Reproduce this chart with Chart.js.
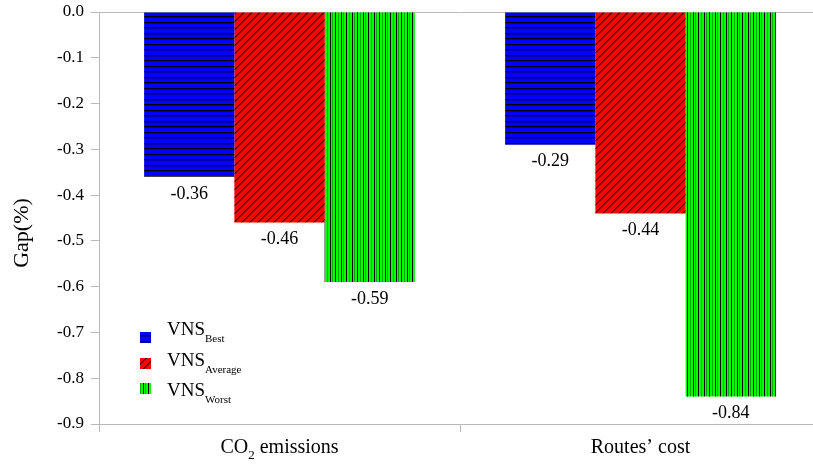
<!DOCTYPE html>
<html>
<head>
<meta charset="utf-8">
<script src="https://cdn.jsdelivr.net/npm/chart.js@4"></script>
<style>
  body { margin: 0; overflow: hidden; background: #fff; }
  #wrap { width: 840px; height: 464px; }
</style>
</head>
<body>
<div id="wrap"><canvas id="myChart" width="840" height="464"></canvas></div>
<script>
// Data
const categories = ['CO2 emissions', 'Routes\u2019 cost'];
const seriesNames = ['Best', 'Average', 'Worst'];   // subscripts of "VNS"
const vnsBest = [-0.36, -0.29];
const vnsAverage = [-0.46, -0.44];
const vnsWorst = [-0.59, -0.84];
const yTicks = [0, -0.1, -0.2, -0.3, -0.4, -0.5, -0.6, -0.7, -0.8, -0.9];
const yTitle = 'Gap(%)';

const AXIS = '#b8b8b8';
const FONT = '"Liberation Serif", "Times New Roman", serif';

// Fill patterns for the bars
function makePattern(kind) {
    const c = document.createElement('canvas');
    const g = c.getContext('2d');
    if (kind === 'h') {
        c.width = 8; c.height = 11;
        g.fillStyle = '#0000ff'; g.fillRect(0, 0, 8, 11);
        g.fillStyle = '#000';
        g.fillRect(0, 0, 8, 1);
        g.fillRect(0, 5, 8, 1);
        g.fillStyle = '#0000b0';
        g.fillRect(0, 1, 8, 1);
        g.fillRect(0, 6, 8, 1);
    } else if (kind === 'd') {
        c.width = 8; c.height = 8;
        g.fillStyle = '#ff0000'; g.fillRect(0, 0, 8, 8);
        g.fillStyle = '#000';
        for (let i = 0; i < 8; i++) g.fillRect(i, 7 - i, 1, 1);
        g.fillStyle = '#800000';
        for (let i = 0; i < 8; i++) g.fillRect((i + 1) % 8, 7 - i, 1, 1);
    } else {
        c.width = 11; c.height = 8;
        g.fillStyle = '#00ff00'; g.fillRect(0, 0, 11, 8);
        g.fillStyle = '#000';
        g.fillRect(0, 0, 1, 8);
        g.fillRect(5, 0, 1, 8);
        g.fillStyle = '#00b000';
        g.fillRect(2, 0, 1, 8);
        g.fillRect(8, 0, 1, 8);
    }
    return g.createPattern(c, 'repeat');
}

const fills = [makePattern('h'), makePattern('d'), makePattern('v')];

// Value labels under each bar end
const valueLabels = {
    id: 'valueLabels',
    afterDatasetsDraw(chart) {
        const ctx = chart.ctx;
        ctx.save();
        ctx.font = '18px ' + FONT;
        ctx.fillStyle = '#000';
        ctx.textAlign = 'center';
        ctx.textBaseline = 'top';
        chart.data.datasets.forEach((ds, i) => {
            chart.getDatasetMeta(i).data.forEach((bar, j) => {
                ctx.fillText(ds.data[j].toFixed(2), bar.x, bar.y + 8);
            });
        });
        ctx.restore();
    }
};

// Legend with subscripts, axis title, and x labels with subscripted CO2
const extraText = {
    id: 'extraText',
    afterDraw(chart) {
        const ctx = chart.ctx;
        const area = chart.chartArea;
        ctx.save();
        ctx.fillStyle = '#000';
        ctx.textBaseline = 'alphabetic';

        // y title
        ctx.save();
        ctx.translate(28, (area.top + area.bottom) / 2 + 15);
        ctx.rotate(-Math.PI / 2);
        ctx.font = '22px ' + FONT;
        ctx.textAlign = 'center';
        ctx.fillText(yTitle, 0, 0);
        ctx.restore();

        // legend
        const lx = area.left + 41;
        const boxTops = [area.top + 320, area.top + 346, area.top + 371];
        const textBase = [area.top + 323, area.top + 354, area.top + 384];
        seriesNames.forEach((name, i) => {
            ctx.fillStyle = fills[i];
            ctx.fillRect(lx, boxTops[i], 11, 11);
            ctx.fillStyle = '#000';
            ctx.textAlign = 'left';
            ctx.font = '19px ' + FONT;
            ctx.fillText('VNS', lx + 27, textBase[i]);
            const w = ctx.measureText('VNS').width;
            ctx.font = '11px ' + FONT;
            ctx.fillText(name, lx + 27 + w, textBase[i] + 7);
        });

        // category labels
        const xs = chart.scales.x;
        const base = area.bottom + 29;
        categories.forEach((cat, i) => {
            const cx = xs.getPixelForValue(i);
            if (cat.indexOf('CO2') === 0) {
                ctx.font = '20px ' + FONT;
                const a = 'CO', b = ' emissions';
                const wa = ctx.measureText(a).width;
                const wb = ctx.measureText(b).width;
                ctx.font = '13px ' + FONT;
                const ws = ctx.measureText('2').width;
                let x0 = cx - (wa + ws + wb) / 2;
                ctx.textAlign = 'left';
                ctx.font = '20px ' + FONT;
                ctx.fillText(a, x0, base);
                ctx.font = '13px ' + FONT;
                ctx.fillText('2', x0 + wa, base + 6);
                ctx.font = '20px ' + FONT;
                ctx.fillText(b, x0 + wa + ws, base);
            } else {
                ctx.font = '20px ' + FONT;
                ctx.textAlign = 'center';
                ctx.fillText(cat, cx, base);
            }
        });
        ctx.restore();
    }
};

const ctx = document.getElementById('myChart').getContext('2d');

const myChart = new Chart(ctx, {
    type: 'bar',
    data: {
        labels: categories,
        datasets: [
            { label: 'VNS Best', data: vnsBest, backgroundColor: fills[0] },
            { label: 'VNS Average', data: vnsAverage, backgroundColor: fills[1] },
            { label: 'VNS Worst', data: vnsWorst, backgroundColor: fills[2] }
        ]
    },
    options: {
        responsive: false,
        animation: false,
        categoryPercentage: 0.75,
        barPercentage: 1.0,
        layout: { padding: { top: 12, right: 19, left: 0, bottom: 0 } },
        plugins: {
            legend: { display: false },
            tooltip: { enabled: false }
        },
        scales: {
            x: {
                afterFit: scale => { scale.height = 40; },
                ticks: { display: false },
                grid: {
                    offset: true,
                    drawOnChartArea: false,
                    color: AXIS,
                    tickLength: 8
                },
                border: { color: AXIS }
            },
            y: {
                min: -0.9,
                max: 0,
                afterFit: scale => { scale.width = 99; scale.paddingTop = 0; },
                afterBuildTicks: scale => {
                    scale.ticks = yTicks.map(v => ({ value: v }));
                },
                ticks: {
                    padding: 7,
                    color: '#000',
                    font: { family: FONT, size: 17, lineHeight: 0.6 },
                    callback: v => (Math.abs(v) < 1e-9 ? 0 : v).toFixed(1)
                },
                grid: {
                    color: c => (c.tick && Math.abs(c.tick.value) < 1e-9) ? AXIS : 'rgba(0,0,0,0)',
                    tickColor: AXIS,
                    tickLength: 8
                },
                border: { color: AXIS }
            }
        }
    },
    plugins: [valueLabels, extraText]
});
</script>
</body>
</html>
